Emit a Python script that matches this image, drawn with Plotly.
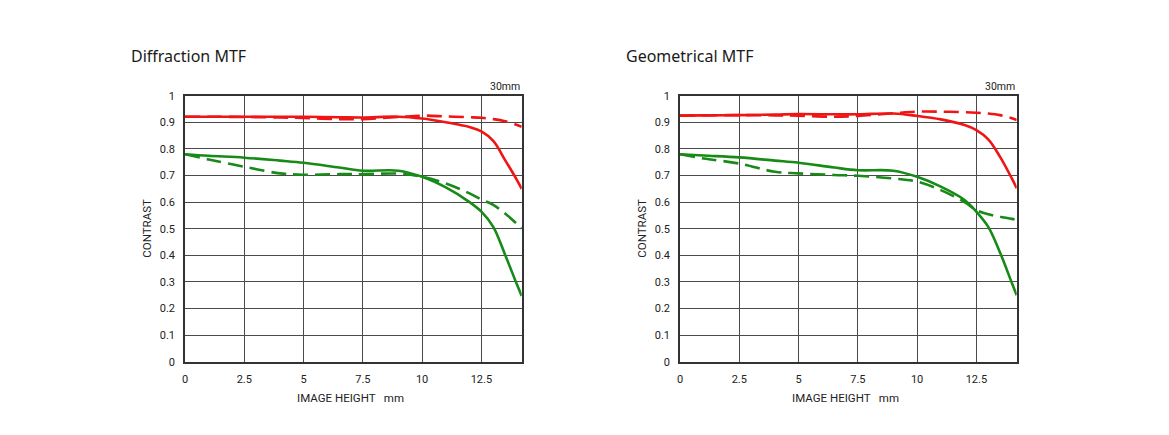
import plotly.graph_objects as go

# ---------------- data ----------------
x_left = [0, 1, 2.5, 4, 5, 6.5, 7.5, 9, 10, 11, 12, 12.5, 13, 13.5, 14, 14.2]

diff_red_solid  = [0.921, 0.921, 0.921, 0.921, 0.921, 0.919, 0.918, 0.921, 0.914, 0.900, 0.882, 0.866, 0.830, 0.758, 0.683, 0.650]
diff_red_dash   = [0.921, 0.921, 0.920, 0.918, 0.916, 0.912, 0.912, 0.920, 0.925, 0.922, 0.919, 0.917, 0.912, 0.904, 0.890, 0.883]
diff_grn_solid  = [0.780, 0.774, 0.767, 0.756, 0.748, 0.730, 0.718, 0.718, 0.695, 0.655, 0.600, 0.564, 0.507, 0.402, 0.290, 0.247]
diff_grn_dash   = [0.780, 0.760, 0.733, 0.708, 0.703, 0.705, 0.705, 0.707, 0.695, 0.670, 0.633, 0.610, 0.590, 0.557, 0.518, 0.500]

geo_red_solid   = [0.925, 0.926, 0.927, 0.929, 0.931, 0.930, 0.930, 0.933, 0.924, 0.911, 0.890, 0.871, 0.836, 0.770, 0.688, 0.652]
geo_red_dash    = [0.925, 0.926, 0.927, 0.926, 0.925, 0.921, 0.924, 0.934, 0.940, 0.940, 0.938, 0.936, 0.933, 0.927, 0.915, 0.909]
geo_grn_solid   = [0.780, 0.775, 0.768, 0.756, 0.748, 0.730, 0.720, 0.718, 0.695, 0.658, 0.608, 0.564, 0.507, 0.410, 0.295, 0.250]
geo_grn_dash    = [0.780, 0.764, 0.745, 0.714, 0.708, 0.702, 0.699, 0.689, 0.677, 0.645, 0.600, 0.570, 0.554, 0.545, 0.537, 0.533]

x_ticks = [0, 2.5, 5, 7.5, 10, 12.5]
x_tick_text = ["0", "2.5", "5", "7.5", "10", "12.5"]
y_ticks = [0, 0.1, 0.2, 0.3, 0.4, 0.5, 0.6, 0.7, 0.8, 0.9, 1]
y_tick_text = ["0", "0.1", "0.2", "0.3", "0.4", "0.5", "0.6", "0.7", "0.8", "0.9", "1"]

titles = ["Diffraction MTF", "Geometrical MTF"]
focal = "30mm"

RED = "#f01515"
GREEN = "#178a17"
DASH = "15px,7px"

W, H = 1169, 435
fig = go.Figure()

panels = [
    ("x", "y", [diff_red_solid, diff_red_dash, diff_grn_solid, diff_grn_dash]),
    ("x2", "y2", [geo_red_solid, geo_red_dash, geo_grn_solid, geo_grn_dash]),
]
styles = [(RED, "solid"), (RED, DASH), (GREEN, "solid"), (GREEN, DASH)]

for xa, ya, series in panels:
    for (col, dash), ys in zip(styles, series):
        fig.add_trace(go.Scatter(
            x=x_left, y=ys, xaxis=xa, yaxis=ya, mode="lines",
            line=dict(color=col, width=2.6, dash=dash, shape="spline", smoothing=1.0),
            showlegend=False, hoverinfo="skip"))

tick_font = dict(family="Roboto, Liberation Sans, Arial", size=11, color="#222")
grid_col = "#4a4a4a"

def xaxis(domain, anchor):
    return dict(domain=domain, anchor=anchor, range=[0, 14.2], tickmode="array",
                tickvals=x_ticks, ticktext=x_tick_text, showgrid=True, gridcolor=grid_col,
                gridwidth=1, zeroline=False, showline=True, linecolor="#333", linewidth=1.5,
                mirror=True, ticks="", tickfont=tick_font, ticklabelstandoff=6,
                automargin=False)

def yaxis(domain, anchor):
    return dict(domain=domain, anchor=anchor, range=[0, 1], tickmode="array",
                tickvals=y_ticks, ticktext=y_tick_text, showgrid=True, gridcolor=grid_col,
                gridwidth=1, zeroline=False, showline=True, linecolor="#333", linewidth=1.5,
                mirror=True, ticks="", tickfont=tick_font, ticklabelstandoff=6,
                automargin=False)

xd1 = [185 / W, 521.7 / W]
xd2 = [680 / W, 1016.7 / W]
yd = [1 - 361.7 / H, 1 - 95.7 / H]

fig.update_layout(
    width=W, height=H, margin=dict(l=0, r=0, t=0, b=0, autoexpand=False),
    autosize=False,
    paper_bgcolor="white", plot_bgcolor="white",
    xaxis=xaxis(xd1, "y"), yaxis=yaxis(yd, "x"),
    xaxis2=xaxis(xd2, "y2"), yaxis2=yaxis(yd, "x2"),
)

ann = []
title_font = dict(family="Noto Sans, Open Sans", size=16, color="#1a1a1a")
small_font = dict(family="Roboto, Liberation Sans, Arial", size=10.5, color="#222")
axis_title_font = dict(family="Roboto, Liberation Sans, Arial", size=11.5, color="#222")
for (xd, title, left_px) in [(xd1, titles[0], 129), (xd2, titles[1], 624)]:
    ann.append(dict(text=title, x=left_px / W, y=1 - 56 / H, xref="paper", yref="paper",
                    xanchor="left", yanchor="middle", showarrow=False, font=title_font))
    ann.append(dict(text=focal, x=xd[1], y=1 - 87 / H, xref="paper", yref="paper",
                    xanchor="right", yanchor="middle", showarrow=False, font=small_font))
    ann.append(dict(text="IMAGE HEIGHT &nbsp; mm", x=(xd[0] + xd[1]) / 2 - 3 / W, y=1 - 398 / H,
                    xref="paper", yref="paper", xanchor="center", yanchor="middle",
                    showarrow=False, font=axis_title_font))
    ann.append(dict(text="CONTRAST", x=xd[0] - 38 / W, y=(yd[0] + yd[1]) / 2,
                    xref="paper", yref="paper", xanchor="center", yanchor="middle",
                    textangle=-90, showarrow=False, font=axis_title_font))
fig.update_layout(annotations=ann)

fig.write_html("out.html", post_script="document.body.style.margin='0';document.body.style.overflow='hidden';")
